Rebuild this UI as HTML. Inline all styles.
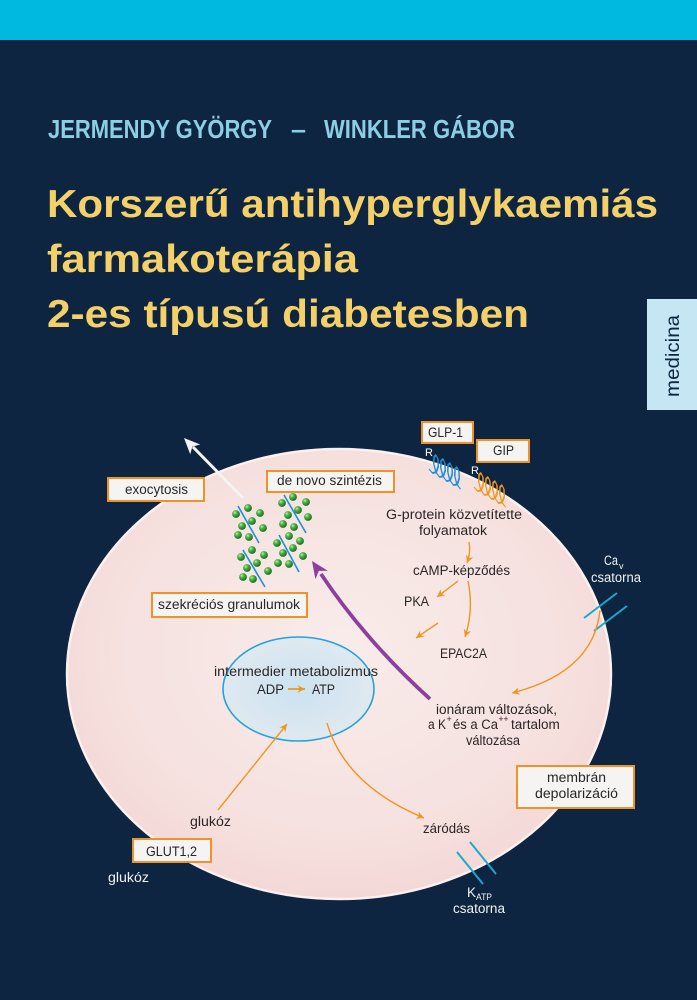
<!DOCTYPE html>
<html>
<head>
<meta charset="utf-8">
<style>
html,body{margin:0;padding:0;background:#0d2541;}
svg{display:block;}
text{font-family:"Liberation Sans",sans-serif;}
</style>
</head>
<body>
<svg width="697" height="1000" viewBox="0 0 697 1000" xmlns="http://www.w3.org/2000/svg">
<defs>
  <radialGradient id="cellg" cx="50%" cy="45%" r="55%">
    <stop offset="0" stop-color="#f8ecea"/>
    <stop offset="0.75" stop-color="#f6e1df"/>
    <stop offset="1" stop-color="#f3d8d6"/>
  </radialGradient>
  <radialGradient id="nucg" cx="50%" cy="50%" r="55%">
    <stop offset="0" stop-color="#cae3f1"/>
    <stop offset="1" stop-color="#e2e9ef"/>
  </radialGradient>
  <radialGradient id="ball" cx="35%" cy="32%" r="68%">
    <stop offset="0" stop-color="#c8f0a8"/>
    <stop offset="0.35" stop-color="#4fb94a"/>
    <stop offset="1" stop-color="#16701f"/>
  </radialGradient>
  <marker id="oa" viewBox="-8 -4.5 9 9" refX="0" refY="0" markerWidth="9" markerHeight="9" markerUnits="userSpaceOnUse" orient="auto">
    <path d="M0,0 L-7.5,-3.8 L-5.2,0 L-7.5,3.8 Z" fill="#f0951f"/>
  </marker>
</defs>

<!-- background -->
<rect x="0" y="0" width="697" height="1000" fill="#0d2541"/>
<rect x="0" y="0" width="697" height="40" fill="#00b9e1"/>

<!-- authors -->
<g font-weight="bold" font-size="26" fill="#8ccfe4">
  <text x="48" y="138" textLength="224" lengthAdjust="spacingAndGlyphs">JERMENDY GYÖRGY</text>
  <text x="291" y="138" textLength="15" lengthAdjust="spacingAndGlyphs">–</text>
  <text x="324" y="138" textLength="191" lengthAdjust="spacingAndGlyphs">WINKLER GÁBOR</text>
</g>

<!-- title -->
<g font-weight="bold" font-size="39" fill="#f4d068">
  <text x="47" y="217" textLength="611" lengthAdjust="spacingAndGlyphs">Korszerű antihyperglykaemiás</text>
  <text x="47" y="272" textLength="311" lengthAdjust="spacingAndGlyphs">farmakoterápia</text>
  <text x="47" y="327" textLength="482" lengthAdjust="spacingAndGlyphs">2-es típusú diabetesben</text>
</g>

<!-- medicina tab -->
<rect x="647" y="299" width="50" height="111" fill="#c6e6f3"/>
<text transform="translate(679,356) rotate(-90)" text-anchor="middle" font-size="19" fill="#0d2541" textLength="82" lengthAdjust="spacingAndGlyphs">medicina</text>

<!-- cell -->
<ellipse cx="339" cy="674" rx="273" ry="226" fill="url(#cellg)"/>
<ellipse cx="339" cy="674" rx="272" ry="225" fill="none" stroke="#fcf3f1" stroke-width="2.5" opacity="0.9"/>

<!-- nucleus / metabolism -->
<ellipse cx="298.5" cy="689" rx="75.5" ry="52" fill="url(#nucg)" stroke="#22a3dc" stroke-width="1.6"/>

<!-- white exocytosis arrow -->
<line x1="243" y1="498" x2="193" y2="447" stroke="#f4f4f4" stroke-width="3"/>
<polygon points="184,438 200.2,444.5 192.4,446.6 190.2,454.3" fill="#f4f4f4"/>

<!-- purple arrow -->
<path d="M430,699 Q365,640 321,574" fill="none" stroke="#8c3f9c" stroke-width="3.8"/>
<polygon points="312,561 327.8,570.8 318.8,570.9 315.4,579.2" fill="#8c3f9c"/>

<!-- granule lines -->
<g stroke="#1f8fd8" stroke-width="1.6">
  <line x1="238" y1="506" x2="259" y2="543"/>
  <line x1="243" y1="550" x2="265" y2="587"/>
  <line x1="284" y1="495" x2="306" y2="533"/>
  <line x1="279" y1="535" x2="299" y2="572"/>
</g>
<!-- granules -->
<g fill="url(#ball)">
  <circle cx="236" cy="514" r="3.9"/><circle cx="248" cy="508" r="3.9"/><circle cx="260" cy="513" r="3.9"/><circle cx="252" cy="521" r="3.9"/>
  <circle cx="242" cy="526" r="3.9"/><circle cx="263" cy="528" r="3.9"/><circle cx="238" cy="535" r="3.9"/><circle cx="249" cy="537" r="3.9"/>
  <circle cx="252" cy="550" r="3.9"/><circle cx="241" cy="557" r="3.9"/><circle cx="264" cy="555" r="3.9"/><circle cx="257" cy="563" r="3.9"/>
  <circle cx="247" cy="568" r="3.9"/><circle cx="268" cy="571" r="3.9"/><circle cx="243" cy="577" r="3.9"/><circle cx="253" cy="579" r="3.9"/>
  <circle cx="282" cy="503" r="3.9"/><circle cx="293" cy="497" r="3.9"/><circle cx="306" cy="502" r="3.9"/><circle cx="298" cy="510" r="3.9"/>
  <circle cx="288" cy="515" r="3.9"/><circle cx="308" cy="517" r="3.9"/><circle cx="283" cy="524" r="3.9"/><circle cx="294" cy="527" r="3.9"/>
  <circle cx="289" cy="536" r="3.9"/><circle cx="277" cy="543" r="3.9"/><circle cx="300" cy="541" r="3.9"/><circle cx="293" cy="548" r="3.9"/>
  <circle cx="283" cy="553" r="3.9"/><circle cx="303" cy="556" r="3.9"/><circle cx="278" cy="563" r="3.9"/><circle cx="289" cy="564" r="3.9"/>
</g>

<!-- receptors coils -->
<polyline transform="translate(429,461) skewY(30)" fill="none" stroke="#1e8fd6" stroke-width="1.5" stroke-linejoin="round"
 points="0,8 3.5,10 7.2,7.07 9.25,0 8.95,-7.07 7,-10 5.05,-7.07 4.75,0 6.8,7.07 10.5,10 14.2,7.07 16.25,0 15.95,-7.07 14,-10 12.05,-7.07 11.75,0 13.8,7.07 17.5,10 21.2,7.07 23.25,0 22.95,-7.07 21,-10 19.05,-7.07 18.75,0 20.8,7.07 24.5,10 28.2,7.07 30.25,0 29.95,-7.07 28,-10 26.05,-7.07 25.75,0 27.8,7.07 31.5,10"/>
<polyline transform="translate(474,479) skewY(30)" fill="none" stroke="#f0951f" stroke-width="1.5" stroke-linejoin="round"
 points="0,8 3.5,10 7.2,7.07 9.25,0 8.95,-7.07 7,-10 5.05,-7.07 4.75,0 6.8,7.07 10.5,10 14.2,7.07 16.25,0 15.95,-7.07 14,-10 12.05,-7.07 11.75,0 13.8,7.07 17.5,10 21.2,7.07 23.25,0 22.95,-7.07 21,-10 19.05,-7.07 18.75,0 20.8,7.07 24.5,10 28.2,7.07 30.25,0 29.95,-7.07 28,-10 26.05,-7.07 25.75,0 27.8,7.07 31.5,10"/>
<g fill="#ffffff" font-size="11">
  <text x="425" y="456">R</text>
  <text x="471" y="474">R</text>
</g>

<!-- channels -->
<g stroke="#1ca8cc" stroke-width="2">
  <line x1="584" y1="618" x2="617" y2="593"/>
  <line x1="594" y1="631" x2="627" y2="606"/>
  <line x1="457" y1="852" x2="483" y2="884"/>
  <line x1="470" y1="842" x2="496" y2="874"/>
</g>

<!-- orange arrows -->
<g fill="none" stroke="#f0951f" stroke-width="1.4" marker-end="url(#oa)">
  <line x1="218" y1="810" x2="287" y2="724"/>
  <path d="M327,723 Q345,785 424,818"/>
  <path d="M469,542 Q471,552 467,563"/>
  <line x1="458" y1="581" x2="437" y2="597"/>
  <line x1="438" y1="623" x2="416" y2="638"/>
  <path d="M468,581 Q474,610 465,637"/>
  <path d="M600,610 Q594,672 512,693"/>
</g>
<line x1="288" y1="689" x2="305" y2="689" stroke="#f0951f" stroke-width="1.8" marker-end="url(#oa)"/>

<!-- boxes -->
<g fill="#f6f4f3" stroke="#f0922a" stroke-width="2">
  <rect x="422" y="422" width="51" height="21"/>
  <rect x="477" y="440" width="52" height="22"/>
  <rect x="108" y="478" width="96" height="23"/>
  <rect x="267" y="471" width="127" height="21"/>
  <rect x="152" y="593" width="155" height="24"/>
  <rect x="133" y="839" width="78" height="23"/>
  <rect x="517" y="766" width="117" height="42"/>
</g>

<!-- dark texts -->
<g fill="#2a2526" font-size="13.5">
  <text x="428" y="437" textLength="35" lengthAdjust="spacingAndGlyphs">GLP-1</text>
  <text x="493" y="455" textLength="21" lengthAdjust="spacingAndGlyphs">GIP</text>
  <text x="125" y="494" textLength="63" lengthAdjust="spacingAndGlyphs">exocytosis</text>
  <text x="277" y="485" textLength="105" lengthAdjust="spacingAndGlyphs">de novo szintézis</text>
  <text x="158" y="609" textLength="142" lengthAdjust="spacingAndGlyphs">szekréciós granulumok</text>
  <text x="146" y="856" textLength="51" lengthAdjust="spacingAndGlyphs">GLUT1,2</text>
  <text x="547" y="782" textLength="59" lengthAdjust="spacingAndGlyphs">membrán</text>
  <text x="535" y="798" textLength="83" lengthAdjust="spacingAndGlyphs">depolarizáció</text>

  <text x="386" y="519" textLength="136" lengthAdjust="spacingAndGlyphs">G-protein közvetítette</text>
  <text x="419" y="535" textLength="68" lengthAdjust="spacingAndGlyphs">folyamatok</text>
  <text x="413" y="575" textLength="97" lengthAdjust="spacingAndGlyphs">cAMP-képződés</text>
  <text x="404" y="606" textLength="25" lengthAdjust="spacingAndGlyphs">PKA</text>
  <text x="440" y="658" textLength="47" lengthAdjust="spacingAndGlyphs">EPAC2A</text>

  <text x="436" y="714" textLength="121" lengthAdjust="spacingAndGlyphs">ionáram változások,</text>
  <text x="428" y="729" textLength="18" lengthAdjust="spacingAndGlyphs">a K</text>
  <text x="446.5" y="722" font-size="9">+</text>
  <text x="453" y="729" textLength="45" lengthAdjust="spacingAndGlyphs">és a Ca</text>
  <text x="498.5" y="722" font-size="9" textLength="10" lengthAdjust="spacingAndGlyphs">++</text>
  <text x="511" y="729">tartalom</text>
  <text x="466" y="745" textLength="54" lengthAdjust="spacingAndGlyphs">változása</text>

  <text x="214" y="676" textLength="164" lengthAdjust="spacingAndGlyphs">intermedier metabolizmus</text>
  <text x="257" y="694" textLength="27" lengthAdjust="spacingAndGlyphs">ADP</text>
  <text x="312" y="694" textLength="23" lengthAdjust="spacingAndGlyphs">ATP</text>

  <text x="190" y="826" textLength="41" lengthAdjust="spacingAndGlyphs">glukóz</text>
  <text x="423" y="833" textLength="47" lengthAdjust="spacingAndGlyphs">záródás</text>
</g>

<!-- white texts outside -->
<g fill="#f2f2f2" font-size="13.5">
  <text x="604" y="565" textLength="14" lengthAdjust="spacingAndGlyphs">Ca</text>
  <text x="619" y="569" font-size="9">v</text>
  <text x="591" y="582" textLength="50" lengthAdjust="spacingAndGlyphs">csatorna</text>
  <text x="108" y="882" textLength="41" lengthAdjust="spacingAndGlyphs">glukóz</text>
  <text x="467" y="897" textLength="9" lengthAdjust="spacingAndGlyphs">K</text>
  <text x="476" y="900" font-size="9" textLength="16" lengthAdjust="spacingAndGlyphs">ATP</text>
  <text x="453" y="913" textLength="52" lengthAdjust="spacingAndGlyphs">csatorna</text>
</g>
</svg>
</body>
</html>
